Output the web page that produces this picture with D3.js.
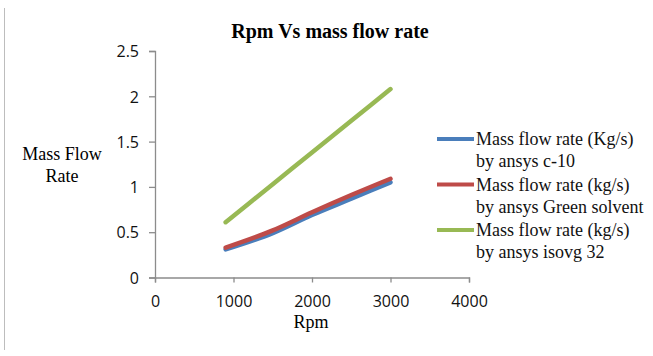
<!DOCTYPE html>
<html>
<head>
<meta charset="utf-8">
<script src="https://d3js.org/d3.v7.min.js"></script>
<style>
body { margin: 0; background: #fff; }
svg { display: block; }
</style>
</head>
<body>
<svg id="vis" width="653" height="356"></svg>
<script>
// values
var rpm = [900, 1500, 2000, 2500, 3000];
var c10 = [0.31, 0.49, 0.69, 0.87, 1.05];
var greenSolvent = [0.33, 0.52, 0.72, 0.91, 1.09];
var isovg32 = [0.61, 1.03, 1.38, 1.73, 2.08];
var xTicks = [0, 1000, 2000, 3000, 4000];
var yTicks = [0, 0.5, 1, 1.5, 2, 2.5];
var legendLabels = [
  ["Mass flow rate (Kg/s)", "by ansys c-10"],
  ["Mass flow rate (kg/s)", "by ansys Green solvent"],
  ["Mass flow rate (kg/s)", "by ansys isovg 32"]
];
var colors = ["#4a7ebb", "#be4b48", "#98b954"];

var series = [c10, greenSolvent, isovg32];

var svg = d3.select("#vis");

// thin frame line on the left edge
svg.append("line")
  .attr("x1", 4.5).attr("x2", 4.5)
  .attr("y1", 8).attr("y2", 350)
  .attr("stroke", "#bdbdbd").attr("stroke-width", 1);

var x = d3.scaleLinear().domain([0, 4000]).range([155, 469]);
var y = d3.scaleLinear().domain([0, 2.5]).range([277.5, 51]);

// axes
var xAxis = d3.axisBottom(x).tickValues(xTicks).tickSize(5).tickFormat(d3.format("d"));
var yAxis = d3.axisLeft(y).tickValues(yTicks).tickSize(6).tickFormat(function(d) { return d; });

var gx = svg.append("g").attr("transform", "translate(0," + y(0) + ")").call(xAxis);
var gy = svg.append("g").attr("transform", "translate(" + x(0) + ",0)").call(yAxis);

[gx, gy].forEach(function(g) {
  g.select(".domain").attr("stroke", "#8c8c8c").attr("stroke-width", 1.3);
  g.selectAll(".tick line").attr("stroke", "#8c8c8c").attr("stroke-width", 1.3);
  g.selectAll(".tick text")
    .attr("fill", "#111")
    .style("font-family", "'Open Sans', 'Liberation Sans', sans-serif")
    .style("font-size", "16px");
});
gx.selectAll(".tick text").attr("y", 29.5).attr("dy", 0);
gy.selectAll(".tick text").attr("x", -16).attr("dy", "0.36em");

// lines
var line = d3.line()
  .x(function(d) { return x(d[0]); })
  .y(function(d) { return y(d[1]); })
  .curve(d3.curveMonotoneX);

series.forEach(function(s, i) {
  svg.append("path")
    .datum(rpm.map(function(r, j) { return [r, s[j]]; }))
    .attr("fill", "none")
    .attr("stroke", colors[i])
    .attr("stroke-width", 4.5)
    .attr("stroke-linecap", "round")
    .attr("d", line);
});

// title
svg.append("text")
  .attr("x", 330).attr("y", 38)
  .attr("text-anchor", "middle")
  .style("font-family", "'Liberation Serif', serif")
  .style("font-weight", "bold")
  .style("font-size", "20px")
  .text("Rpm Vs mass flow rate");

// axis titles
var yTitle = svg.append("text")
  .attr("text-anchor", "middle")
  .style("font-family", "'Liberation Serif', serif")
  .style("font-size", "18px");
yTitle.append("tspan").attr("x", 62).attr("y", 160).text("Mass Flow");
yTitle.append("tspan").attr("x", 62).attr("y", 182).text("Rate");

svg.append("text")
  .attr("x", 311).attr("y", 328)
  .attr("text-anchor", "middle")
  .style("font-family", "'Liberation Serif', serif")
  .style("font-size", "18px")
  .text("Rpm");

// legend
var legend = svg.append("g");
legendLabels.forEach(function(lab, i) {
  var ly = 139 + i * 45.5;
  legend.append("line")
    .attr("x1", 437).attr("x2", 474)
    .attr("y1", ly).attr("y2", ly)
    .attr("stroke", colors[i]).attr("stroke-width", 4);
  var t = legend.append("text")
    .style("font-family", "'Liberation Serif', serif")
    .style("font-size", "18px")
    .attr("fill", "#111");
  t.append("tspan").attr("x", 476).attr("y", ly + 6).text(lab[0]);
  t.append("tspan").attr("x", 476).attr("y", ly + 28).text(lab[1]);
});
</script>
</body>
</html>
